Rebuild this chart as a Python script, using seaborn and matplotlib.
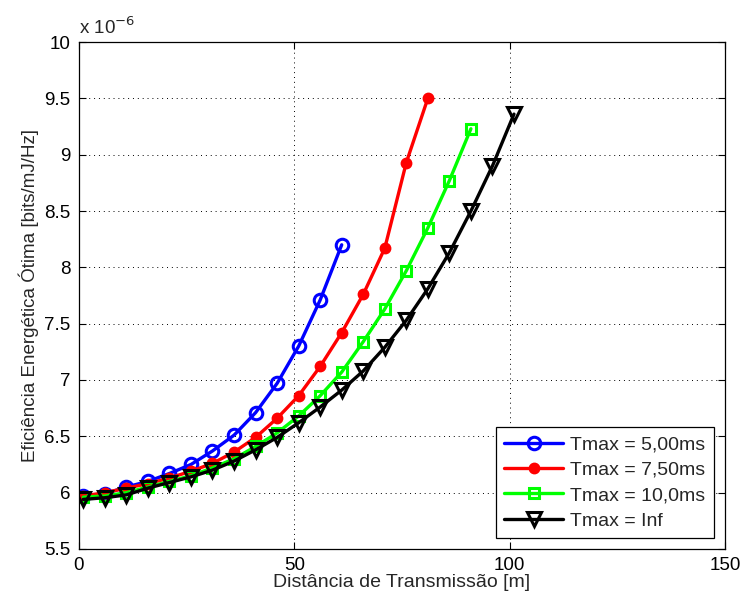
import numpy as np
import pandas as pd
import seaborn as sns
import matplotlib
matplotlib.use('Agg')
import matplotlib.pyplot as plt
from matplotlib.ticker import FuncFormatter

# distancias (m) e eficiencia (x 1e-6 bits/mJ/Hz)
dist_blue = [1, 6, 11, 16, 21, 26, 31, 36, 41, 46, 51, 56, 61]
eff_blue = [5.97, 5.99, 6.05, 6.10, 6.17, 6.25, 6.37, 6.51, 6.71, 6.97, 7.30, 7.71, 8.20]

dist_red = [1, 6, 11, 16, 21, 26, 31, 36, 41, 46, 51, 56, 61, 66, 71, 76, 81]
eff_red = [5.97, 6.00, 6.04, 6.08, 6.13, 6.19, 6.26, 6.36, 6.49, 6.66, 6.86, 7.12,
           7.42, 7.76, 8.17, 8.93, 9.50]

dist_green = [1, 6, 11, 16, 21, 26, 31, 36, 41, 46, 51, 56, 61, 66, 71, 76, 81, 86, 91]
eff_green = [5.96, 5.97, 6.00, 6.05, 6.10, 6.15, 6.22, 6.30, 6.41, 6.53, 6.68, 6.86,
             7.07, 7.34, 7.63, 7.97, 8.35, 8.77, 9.23]

dist_black = [1, 6, 11, 16, 21, 26, 31, 36, 41, 46, 51, 56, 61, 66, 71, 76, 81, 86,
              91, 96, 101]
eff_black = [5.94, 5.955, 5.98, 6.04, 6.09, 6.14, 6.20, 6.28, 6.38, 6.49, 6.62, 6.76,
             6.91, 7.08, 7.29, 7.53, 7.81, 8.13, 8.50, 8.90, 9.36]

labels = ['Tmax = 5,00ms', 'Tmax = 7,50ms', 'Tmax = 10,0ms', 'Tmax = Inf']
x_ticks = [0, 50, 100, 150]
y_ticks = [5.5, 6, 6.5, 7, 7.5, 8, 8.5, 9, 9.5, 10]

sns.set_style('ticks')
plt.rcParams['font.family'] = ['Liberation Sans', 'DejaVu Sans']

fig = plt.figure(figsize=(7.43, 6.03), dpi=100)
ax = fig.add_axes([0.1063, 0.0896, 0.8695, 0.8407])

styles = [
    dict(marker='o', markersize=9, markerfacecolor='none', markeredgewidth=2.2),
    dict(marker='o', markersize=7, markeredgewidth=1.5),
    dict(marker='s', markersize=7.5, markerfacecolor='none', markeredgewidth=2.2),
    dict(marker='v', markersize=9.5, markerfacecolor='none', markeredgewidth=2.2),
]
colors = ['#0000ff', '#ff0000', '#00ff00', '#000000']
series = [(dist_blue, eff_blue), (dist_red, eff_red),
          (dist_green, eff_green), (dist_black, eff_black)]

for (xs, ys), lab, col, st in zip(series, labels, colors, styles):
    df = pd.DataFrame({'x': xs, 'y': ys})
    sns.lineplot(data=df, x='x', y='y', ax=ax, label=lab, color=col, linewidth=2.4)
    line = ax.lines[-1]
    line.set_linestyle('-')
    line.set_marker(st['marker'])
    line.set_markersize(st['markersize'])
    line.set_markeredgewidth(st['markeredgewidth'])
    line.set_markeredgecolor(col)
    line.set_markerfacecolor(st.get('markerfacecolor', col))

ax.set_xlim(0, 150)
ax.set_ylim(5.5, 10)
ax.set_xticks(x_ticks)
ax.set_yticks(y_ticks)
ax.yaxis.set_major_formatter(FuncFormatter(lambda v, p: '%g' % v))
ax.tick_params(direction='in', length=5, labelsize=13.5, top=True, right=True,
               width=0.8, colors='black', pad=6)
for s in ax.spines.values():
    s.set_visible(True)
    s.set_color('black')
    s.set_linewidth(0.9)
ax.grid(True, linestyle=(0, (1, 4)), color='black', linewidth=0.7)

ax.set_xlabel('Distância de Transmissão [m]', fontsize=14, labelpad=0)
ax.set_ylabel('Eficiência Energética Ótima [bits/mJ/Hz]', fontsize=13.5, labelpad=4)
ax.text(0.0, 1.008, 'x 10$^{-6}$', transform=ax.transAxes, fontsize=13.5,
        ha='left', va='bottom')

leg = ax.legend(loc='lower right', fontsize=14, frameon=True, fancybox=False,
                edgecolor='black', framealpha=1, handlelength=3.0,
                borderaxespad=0.55, labelspacing=0.4, handletextpad=0.4,
                borderpad=0.45)
leg.get_frame().set_linewidth(0.9)

fig.savefig('out.png', dpi=100)
